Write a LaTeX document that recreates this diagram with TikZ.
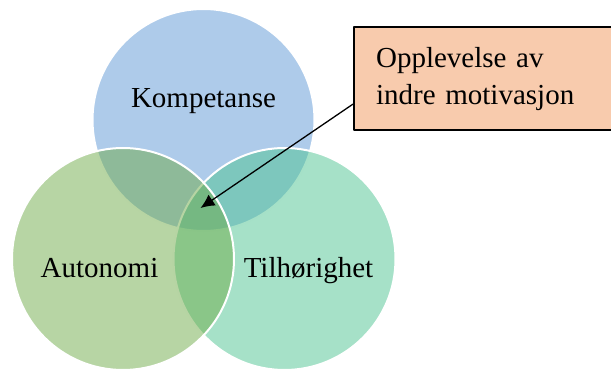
\documentclass[tikz,border=0pt]{standalone}
\usepackage{fontspec}
\setmainfont{Liberation Serif}
\usetikzlibrary{arrows.meta,calc}
\definecolor{kompblue}{RGB}{93,151,213}
\definecolor{autogreen}{RGB}{111,171,73}
\definecolor{tilhteal}{RGB}{77,195,145}
\definecolor{boxpeach}{RGB}{248,203,173}
\begin{document}
\begin{tikzpicture}[x=1pt, y=-1pt, font=\fontsize{29}{37}\selectfont, line join=round, >={Latex[length=14pt,width=13pt]},
		set/.style={fill opacity=0.5, draw=white, line width=2pt},
		lbl/.style={anchor=base, inner sep=0pt}]
		\useasboundingbox (0,0) rectangle (611,369);
		% the three sets
		\path[set, fill=kompblue] (203.5,120) circle (111);
		\path[set, fill=tilhteal] (284.5,259) circle (111);
		\path[set, fill=autogreen] (123,259) circle (111);
		\node[lbl] (komp) at (203.5,107) {Kompetanse};
		\node[lbl] (auto) at (99.5,277) {Autonomi};
		\node[lbl] (tilh) at (308.5,277) {Tilhørighet};
		% callout
		\node[draw=black, line width=2.2pt, fill=boxpeach, anchor=north west, minimum height=103pt, text width=230pt, inner xsep=22pt, align=left] (box) at (353,26) {Opplevelse av\\indre motivasjon};
		\coordinate (core) at (200.5,208);
		\draw[->, line width=1.3pt] ($(box.west)+(0,25.5)$) -- (core);
	\end{tikzpicture}
\end{document}
